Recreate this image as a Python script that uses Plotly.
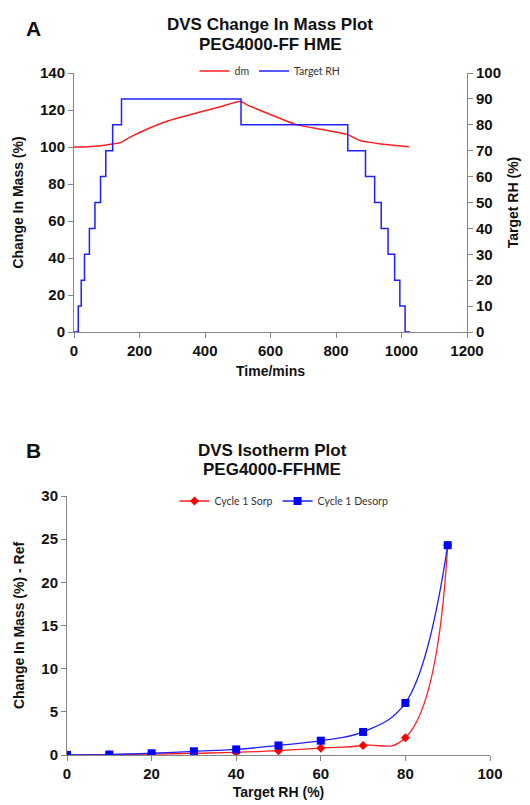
import plotly.graph_objects as go

# ---------------- Data ----------------
# Panel A: DVS change in mass vs time
dm_time = [0, 40, 81, 117, 144, 170, 212, 284, 385, 450, 508, 527, 588, 679, 760, 836, 871, 932, 1023]
dm_value = [100.0, 100.2, 100.7, 101.6, 102.5, 105.2, 108.8, 113.9, 118.9, 121.9, 124.7,
            122.9, 118.4, 112.1, 109.4, 106.7, 103.6, 101.8, 100.2]

rh_step_time = [0, 13, 22, 32, 47, 64, 81, 97, 118, 145, 510, 836, 890, 918, 938, 959, 979, 995, 1011, 1026]
rh_step_value = [0, 10, 20, 30, 40, 50, 60, 70, 80, 90, 80, 70, 60, 50, 40, 30, 20, 10, 0, 0]

# Panel B: isotherm
target_rh = [0, 10, 20, 30, 40, 50, 60, 70, 80, 90]
sorp = [0.0, 0.05, 0.1, 0.2, 0.3, 0.5, 0.8, 1.1, 2.0, 24.3]
desorp = [0.0, 0.05, 0.2, 0.43, 0.65, 1.1, 1.66, 2.67, 6.03, 24.3]

W, H = 530, 805
AX = "#868686"
FONT = "Liberation Sans"
RED = "#FF2020"
BLUE = "#2020FF"

def px_x(p):
    return p / W

def px_y(p):
    return 1 - p / H

fig = go.Figure()

fig.add_trace(go.Scatter(x=dm_time, y=dm_value, mode="lines", name="dm",
                         line=dict(color=RED, width=1.5, shape="spline", smoothing=0.5),
                         xaxis="x", yaxis="y", legend="legend"))
fig.add_trace(go.Scatter(x=rh_step_time, y=rh_step_value, mode="lines", name="Target RH",
                         line=dict(color=BLUE, width=1.5, shape="hv"), xaxis="x", yaxis="y2",
                         legend="legend"))

fig.add_trace(go.Scatter(x=target_rh, y=sorp, mode="lines+markers", name="Cycle 1 Sorp",
                         line=dict(color=RED, width=1.3, shape="spline", smoothing=1.3),
                         marker=dict(symbol="diamond", size=7, color="#FF0000"),
                         xaxis="x3", yaxis="y3", legend="legend2"))
fig.add_trace(go.Scatter(x=target_rh, y=desorp, mode="lines+markers", name="Cycle 1 Desorp",
                         line=dict(color=BLUE, width=1.3, shape="spline", smoothing=1.1),
                         marker=dict(symbol="square", size=8, color="#0000FF"),
                         xaxis="x3", yaxis="y3", legend="legend2"))

tickfont = dict(family=FONT, size=15, color="#111", weight="bold")
titlefont = dict(family=FONT, size=14, color="#111", weight="bold")

def axis(**kw):
    d = dict(showline=True, linecolor=AX, linewidth=1, ticks="outside", ticklen=5,
             tickcolor=AX, showgrid=False, zeroline=False, tickfont=tickfont,
             automargin=False, fixedrange=True)
    d.update(kw)
    return d

legfont = dict(family="Lato", size=10.5, color="#333")

fig.update_layout(
    width=W, height=H,
    margin=dict(l=0, r=0, t=0, b=0),
    paper_bgcolor="white", plot_bgcolor="white",
    xaxis=axis(domain=[px_x(66), px_x(459)], anchor="y", range=[0, 1200], dtick=200,
               title=dict(text="Time/mins", font=titlefont, standoff=8)),
    yaxis=axis(domain=[px_y(324), px_y(65)], anchor="x", range=[0, 140], dtick=20,
               title=dict(text="Change In Mass (%)", font=titlefont, standoff=13)),
    yaxis2=axis(domain=[px_y(324), px_y(65)], anchor="x", overlaying="y", side="right",
                range=[0, 100], dtick=10,
                title=dict(text="Target RH (%)", font=titlefont, standoff=8)),
    xaxis3=axis(domain=[px_x(59), px_x(482)], anchor="y3", range=[0, 100], dtick=20,
                title=dict(text="Target RH (%)", font=titlefont, standoff=6)),
    yaxis3=axis(domain=[px_y(747), px_y(488)], anchor="x3", range=[0, 30], dtick=5,
                title=dict(text="Change In Mass (%) - Ref", font=titlefont, standoff=13)),
    legend=dict(orientation="h", x=px_x(262), y=px_y(63), xanchor="center", yanchor="middle",
                font=legfont, itemwidth=30, bgcolor="rgba(0,0,0,0)"),
    legend2=dict(orientation="h", x=px_x(276), y=px_y(493), xanchor="center", yanchor="middle",
                 font=legfont, itemwidth=30, bgcolor="rgba(0,0,0,0)"),
)

ann_font = dict(family=FONT, size=17, color="#111", weight="bold")
title_lines = [
    ("DVS Change In Mass Plot", 262, 17),
    ("PEG4000-FF HME", 262, 36),
    ("DVS Isotherm Plot", 264, 442),
    ("PEG4000-FFHME", 264, 461),
]
for txt, xx, yy in title_lines:
    fig.add_annotation(text=txt, xref="paper", yref="paper", x=px_x(xx), y=px_y(yy),
                       showarrow=False, xanchor="center", yanchor="middle", font=ann_font)
for lab, yy in [("A", 20), ("B", 442)]:
    fig.add_annotation(text=lab, xref="paper", yref="paper", x=px_x(25), y=px_y(yy),
                       showarrow=False, xanchor="center", yanchor="middle",
                       font=dict(family=FONT, size=21, color="#111", weight="bold"))

fig.write_html("out.html")
